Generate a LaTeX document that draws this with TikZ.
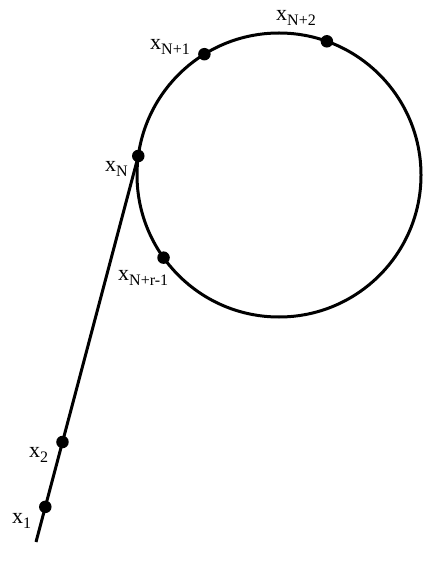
\documentclass[tikz,border=0pt]{standalone}
\usepackage{fontspec}
\setmainfont{Liberation Serif}
\usepackage{tikz}
\usetikzlibrary{calc,positioning}

\newcommand{\xlab}[1]{\fontsize{22}{24}\selectfont x\raisebox{-5pt}{\fontsize{16}{18}\selectfont #1}}

\begin{document}
\begin{tikzpicture}[
    x=1pt, y=-1pt,
    curve/.style={line width=3pt, line cap=round},
    dot/.style={circle, fill=black, inner sep=0pt, minimum size=12.5pt},
    lab/.style={anchor=base west, inner sep=0pt}
]
    \useasboundingbox (0,0) rectangle (439,561);

    \coordinate (c) at (279,175);
    \coordinate (start) at (36,542);
    \coordinate (xN) at ($(c)+(187.7:142)$);

    \draw[curve] (c) circle (142);
    \draw[curve, line cap=butt] (start) -- (xN);

    \node[dot] (p1) at ($(start)!0.091!(xN)$) {};
    \node[dot] (p2) at ($(start)!0.259!(xN)$) {};
    \node[dot] (pN) at (xN) {};
    \node[dot] (pN1) at ($(c)+(238.3:142)$) {};
    \node[dot] (pN2) at ($(c)+(289.7:142)$) {};
    \node[dot] (pNr) at ($(c)+(144.4:142)$) {};

    \node[lab] (l1) at (12,523) {\xlab{1}};
    \node[lab] (l2) at (29,457) {\xlab{2}};
    \node[lab] (lN) at (105,172) {\xlab{N}};
    \node[lab] (lNr) at (118,280) {\xlab{N+r-1}};
    \node[lab] (lN1) at (150,50) {\xlab{N+1}};
    \node[lab] (lN2) at (276,21) {\xlab{N+2}};
\end{tikzpicture}
\end{document}
